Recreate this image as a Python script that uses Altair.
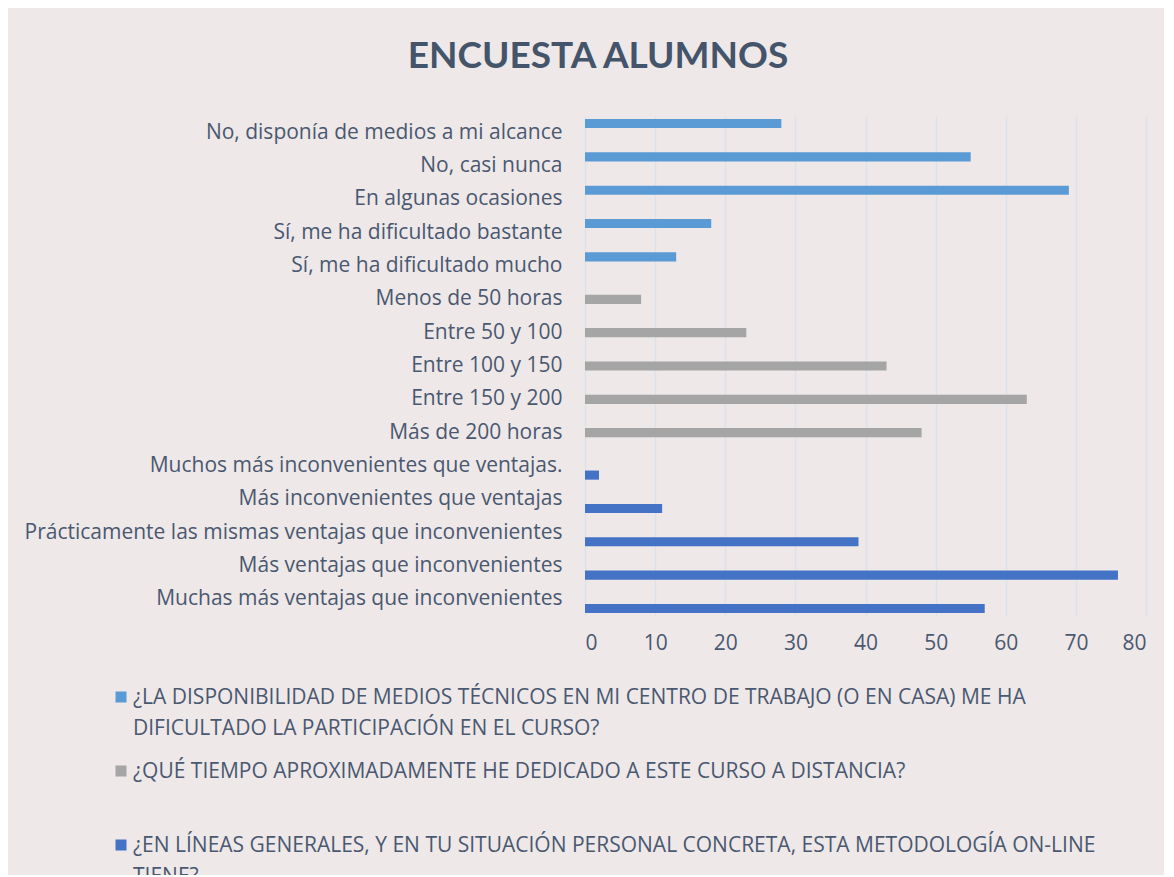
import altair as alt
import pandas as pd

# ---- data ----
categories = [
    "No, disponía de medios a mi alcance",
    "No, casi nunca",
    "En algunas ocasiones",
    "Sí, me ha dificultado bastante",
    "Sí, me ha dificultado mucho",
    "Menos de 50 horas",
    "Entre 50 y 100",
    "Entre 100 y 150",
    "Entre 150 y 200",
    "Más de 200 horas",
    "Muchos más inconvenientes que ventajas.",
    "Más inconvenientes que ventajas",
    "Prácticamente las mismas ventajas que inconvenientes",
    "Más ventajas que inconvenientes",
    "Muchas más ventajas que inconvenientes",
]
series_names = [
    "¿LA DISPONIBILIDAD DE MEDIOS TÉCNICOS EN MI CENTRO DE TRABAJO (O EN CASA) ME HA DIFICULTADO LA PARTICIPACIÓN EN EL CURSO?",
    "¿QUÉ TIEMPO APROXIMADAMENTE HE DEDICADO A ESTE CURSO A DISTANCIA?",
    "¿EN LÍNEAS GENERALES, Y EN TU SITUACIÓN PERSONAL CONCRETA, ESTA METODOLOGÍA ON-LINE TIENE?",
]
legend_labels = [
    "¿LA DISPONIBILIDAD DE MEDIOS TÉCNICOS  EN MI CENTRO DE TRABAJO (O EN CASA) ME HA|DIFICULTADO LA PARTICIPACIÓN EN EL CURSO?",
    "¿QUÉ TIEMPO APROXIMADAMENTE HE DEDICADO A ESTE CURSO A DISTANCIA?",
    "¿EN LÍNEAS GENERALES, Y EN TU SITUACIÓN PERSONAL CONCRETA, ESTA METODOLOGÍA ON-LINE|TIENE?",
]
values_s1 = [28, 55, 69, 18, 13]
values_s2 = [8, 23, 43, 63, 48]
values_s3 = [2, 11, 39, 76, 57]
colors = ["#5B9BD5", "#A5A5A5", "#4472C4"]

rows = []
for cat, v in zip(categories[0:5], values_s1):
    rows.append({"category": cat, "series": series_names[0], "value": v})
for cat, v in zip(categories[5:10], values_s2):
    rows.append({"category": cat, "series": series_names[1], "value": v})
for cat, v in zip(categories[10:15], values_s3):
    rows.append({"category": cat, "series": series_names[2], "value": v})
df = pd.DataFrame(rows)
leg_df = pd.DataFrame({"series": series_names, "label": legend_labels})

FONT = "Open Sans"
TITLE_FONT = "Lato"
TXT = "#4A5870"

color_scale = alt.Scale(domain=series_names, range=colors)

bars = alt.Chart(df).mark_bar().encode(
    y=alt.Y(
        "category:N",
        sort=categories,
        scale=alt.Scale(paddingInner=0.18, paddingOuter=0.09),
        axis=alt.Axis(
            title=None, labelFontSize=21, labelColor=TXT, labelFont=FONT,
            ticks=False, domain=False, labelPadding=23, labelLimit=700,
        ),
    ),
    yOffset=alt.YOffset(
        "series:N", sort=series_names,
        scale=alt.Scale(domain=series_names, paddingInner=0, paddingOuter=0),
    ),
    x=alt.X(
        "value:Q",
        scale=alt.Scale(domain=[0, 80], nice=False),
        axis=alt.Axis(
            values=list(range(0, 81, 10)), title=None, grid=True,
            gridColor="#DCE1EA", gridWidth=1.5, domain=False, ticks=False,
            labelFontSize=21, labelColor=TXT, labelFont=FONT, labelPadding=16,
        ),
    ),
    color=alt.Color("series:N", scale=color_scale, legend=None),
)

# legend drawn below the plot, rows placed by their own point scale
leg_y = alt.Y("series:N", sort=series_names,
              scale=alt.Scale(type="point", domain=series_names, range=[581, 729], padding=0),
              axis=None)
leg_sq = alt.Chart(leg_df).mark_square(size=121, filled=True, opacity=1).encode(
    y=leg_y,
    x=alt.value(-464),
    color=alt.Color("series:N", scale=color_scale, legend=None),
)
leg_tx = alt.Chart(leg_df).mark_text(
    align="left", baseline="top", dy=-10, lineBreak="|",
    fontSize=21, font=FONT, color=TXT, lineHeight=31,
).encode(y=leg_y, x=alt.value(-452), text="label:N")

chart = alt.layer(bars, leg_sq, leg_tx).resolve_scale(y="independent").properties(
    width=561,
    height=500,
    title=alt.Title(
        "ENCUESTA ALUMNOS", fontSize=37, fontWeight="bold", color="#44546A",
        font=TITLE_FONT, anchor="middle", frame="bounds", offset=40, dx=13,
    ),
    padding={"left": 577, "top": 108, "right": 18, "bottom": 259},
    autosize=alt.AutoSizeParams(type="none"),
).configure(background="#EEE8E8").configure_view(stroke=None)

chart.save("out.html", embed_options={"renderer": "svg", "actions": False})
